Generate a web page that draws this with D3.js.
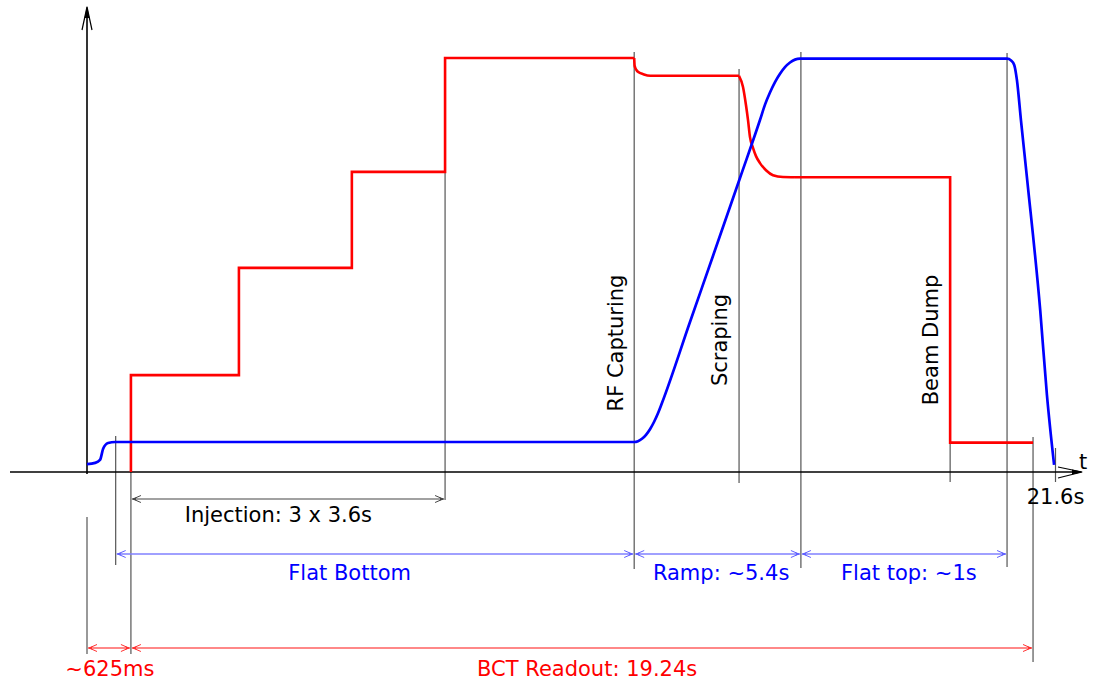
<!DOCTYPE html>
<html><head><meta charset="utf-8">
<script src="https://cdn.jsdelivr.net/npm/d3@7"></script>
<style>
body{margin:0;background:#fff;}
svg{display:block;font-family:"DejaVu Sans",sans-serif;}
</style></head><body>
<svg id="c" width="1093" height="681"></svg>
<script>
// ---------- data (time in s-like schematic units, intensity in % of max) ----------
const tickValues = [21.6];
const tickLabels = ["21.6s"];

// magnetic field (blue)
const blueT = [0, 0.18, 0.29, 0.36, 0.47, 0.63, 11.894, 12.206, 12.295, 12.384, 12.474, 12.563, 12.652, 12.741, 12.830, 13.455, 13.968, 14.571, 15.017, 15.129, 15.240, 15.352, 15.464, 15.575, 15.687, 15.798, 15.910, 16.133, 20.53, 20.62, 20.69, 20.75, 20.84, 20.98, 21.27, 21.42, 21.58];
const blueV = [1.9, 2.2, 2.9, 5.6, 7.0, 7.25, 7.25, 7.25, 7.44, 8.02, 8.99, 10.34, 12.08, 14.20, 16.67, 36.23, 52.17, 71.01, 85.02, 88.74, 91.67, 94.18, 96.21, 97.80, 98.91, 99.61, 99.83, 99.83, 99.83, 99.4, 98.3, 94.7, 85.0, 70.5, 39.1, 18.6, 1.7];

// beam intensity (red), split into pieces
const redStepT = [0.98, 0.98, 3.39, 3.39, 5.91, 5.91, 7.99, 7.99, 12.21];
const redStepV = [0, 23.4, 23.4, 49.3, 49.3, 72.5, 72.5, 100, 100];
const redCaptureT = [12.21, 12.22, 12.26, 12.32, 12.41, 12.57, 12.79, 14.549];
const redCaptureV = [100, 98.1, 97.1, 96.5, 96.1, 95.7, 95.7, 95.7];
const redScrapeT = [14.549, 14.638, 14.705, 14.750, 14.794, 14.861, 14.928, 15.017, 15.151, 15.307, 15.530, 15.798];
const redScrapeV = [95.7, 93.0, 88.6, 85.0, 80.9, 78.3, 76.3, 74.6, 72.9, 71.7, 71.25, 71.2];
const redDumpT = [15.798, 19.26, 19.26, 21.11];
const redDumpV = [71.2, 71.2, 7.1, 7.1];

// event times
const guideT = [0, 0.64, 0.98, 7.99, 12.21, 14.55, 15.93, 19.26, 20.53, 21.11];

// phases (dimension arrows)
const phaseNames = ["Injection: 3 x 3.6s", "Flat Bottom", "Ramp: ~5.4s", "Flat top: ~1s", "~625ms", "BCT Readout: 19.24s"];
const phaseStart = [0.98, 0.64, 12.21, 15.93, 0, 0.98];
const phaseEnd   = [7.99, 12.21, 15.93, 20.53, 0.98, 21.11];
const phaseLabelT = [4.27, 5.86, 14.15, 18.34, 0.51, 11.16];

// events (vertical labels)
const eventNames = ["RF Capturing", "Scraping", "Beam Dump"];
const eventLabelT = [11.95, 14.29, 18.99];

// ---------- layout ----------
const svg = d3.select("#c");
const x = d3.scaleLinear().domain([0, 21.6]).range([87, 1055]);
const y = d3.scaleLinear().domain([0, 100]).range([472, 58]);

const guideExtent = [[517,654],[436,565],[472,654],[172,500],[52,569],[69,483],[52,568],[373,482],[53,567],[437,662]];
const phaseRowY = [499, 554, 554, 554, 648, 648];
const phaseLabelY = [522, 580, 580, 580, 676, 676];
const phaseColor = ["#000000", "#0000ff", "#0000ff", "#0000ff", "#ff0000", "#ff0000"];
const phaseLine  = ["#444444", "#8080ff", "#8080ff", "#8080ff", "#ff6060", "#ff6060"];
const eventLabelY = [343, 340, 340];

// markers
const defs = svg.append("defs");
const markerColors = {"k":"#444444","b":"#6060ff","r":"#ff3030"};
Object.entries(markerColors).forEach(([k,c])=>{
  const m = defs.append("marker").attr("id","ah-"+k)
    .attr("viewBox","-11 -6 13 12").attr("refX",0).attr("refY",0)
    .attr("markerWidth",13).attr("markerHeight",12)
    .attr("markerUnits","userSpaceOnUse").attr("orient","auto-start-reverse");
  m.append("path").attr("d","M-9,-3.5 L-1,0 L-9,3.5").attr("fill","none").attr("stroke",c).attr("stroke-width",1);
  m.append("path").attr("d","M-4,-1.6 L0,0 L-4,1.6 Z").attr("fill",c);
});

// guides
svg.append("g").selectAll("line").data(guideT).join("line")
  .attr("x1", d=>x(d)).attr("x2", d=>x(d))
  .attr("y1", (d,i)=>guideExtent[i][0]).attr("y2", (d,i)=>guideExtent[i][1])
  .attr("stroke", "#555").attr("stroke-width", 1.2);

// x axis with tick
const xAxis = d3.axisBottom(x).tickValues(tickValues).tickFormat((d,i)=>tickLabels[i]).tickSizeOuter(0).tickSize(0);
const gx = svg.append("g").attr("transform", `translate(0,${y(0)})`).call(xAxis);
gx.select(".domain").remove();
gx.selectAll(".tick text").attr("font-family","DejaVu Sans").attr("font-size",21).attr("fill","#000").attr("dy",null).attr("y",32);
gx.selectAll(".tick line").attr("y1",-24).attr("y2",10).attr("stroke","#555").attr("stroke-width",1.2);

// axis lines
svg.append("line").attr("x1",10).attr("x2",1081).attr("y1",y(0)).attr("y2",y(0)).attr("stroke","#000").attr("stroke-width",1.6);
svg.append("line").attr("x1",x(0)).attr("x2",x(0)).attr("y1",474).attr("y2",10).attr("stroke","#000").attr("stroke-width",1.6);
// arrowheads of axes
svg.append("path").attr("d",`M1058,467 L1082,${y(0)} L1058,478`).attr("fill","none").attr("stroke","#000").attr("stroke-width",1.2);
svg.append("path").attr("d",`M1072,${y(0)-2.5} L1083,${y(0)} L1072,${y(0)+2.5} Z`).attr("fill","#000");
svg.append("path").attr("d",`M${x(0)-5},30 L${x(0)},7 L${x(0)+5},30`).attr("fill","none").attr("stroke","#000").attr("stroke-width",1.2);
svg.append("path").attr("d",`M${x(0)-2.5},18 L${x(0)},6 L${x(0)+2.5},18 Z`).attr("fill","#000");
svg.append("text").attr("x",1079).attr("y",469).attr("font-size",21).attr("fill","#000").text("t");

// curves
const lineLin = d3.line().x(d=>x(d[0])).y(d=>y(d[1]));
const lineSm = d3.line().x(d=>x(d[0])).y(d=>y(d[1])).curve(d3.curveMonotoneX);
const zip = (a,b)=>a.map((v,i)=>[v,b[i]]);

const redStyle = p=>p.attr("fill","none").attr("stroke","#ff0000").attr("stroke-width",2.6).attr("stroke-linejoin","miter").attr("stroke-linecap","butt");
redStyle(svg.append("path").attr("d", lineLin(zip(redStepT, redStepV))));
redStyle(svg.append("path").attr("d", lineSm(zip(redCaptureT, redCaptureV))));
redStyle(svg.append("path").attr("d", lineSm(zip(redScrapeT, redScrapeV))));
redStyle(svg.append("path").attr("d", lineLin(zip(redDumpT, redDumpV))));

svg.append("path").attr("d", lineSm(zip(blueT, blueV)))
  .attr("fill","none").attr("stroke","#0000ff").attr("stroke-width",2.7);

// phase arrows
const mk = c => c==="#444444" ? "k" : (c==="#8080ff" ? "b" : "r");
const ph = svg.append("g");
phaseNames.forEach((n,i)=>{
  const m = "url(#ah-"+mk(phaseLine[i])+")";
  ph.append("line").attr("x1", x(phaseStart[i])+1).attr("x2", x(phaseEnd[i])-1)
    .attr("y1", phaseRowY[i]).attr("y2", phaseRowY[i])
    .attr("stroke", phaseLine[i]).attr("stroke-width", i===0?1.2:1.6)
    .attr("marker-start", m).attr("marker-end", m);
  ph.append("text").attr("x", x(phaseLabelT[i])).attr("y", phaseLabelY[i])
    .attr("text-anchor","middle").attr("font-size",21).attr("fill", phaseColor[i]).text(n);
});

// event labels
eventNames.forEach((n,i)=>{
  svg.append("text").attr("transform", `translate(${x(eventLabelT[i])},${eventLabelY[i]}) rotate(-90)`)
    .attr("text-anchor","middle").attr("font-size",21).attr("fill","#000").text(n);
});
</script>
</body></html>
